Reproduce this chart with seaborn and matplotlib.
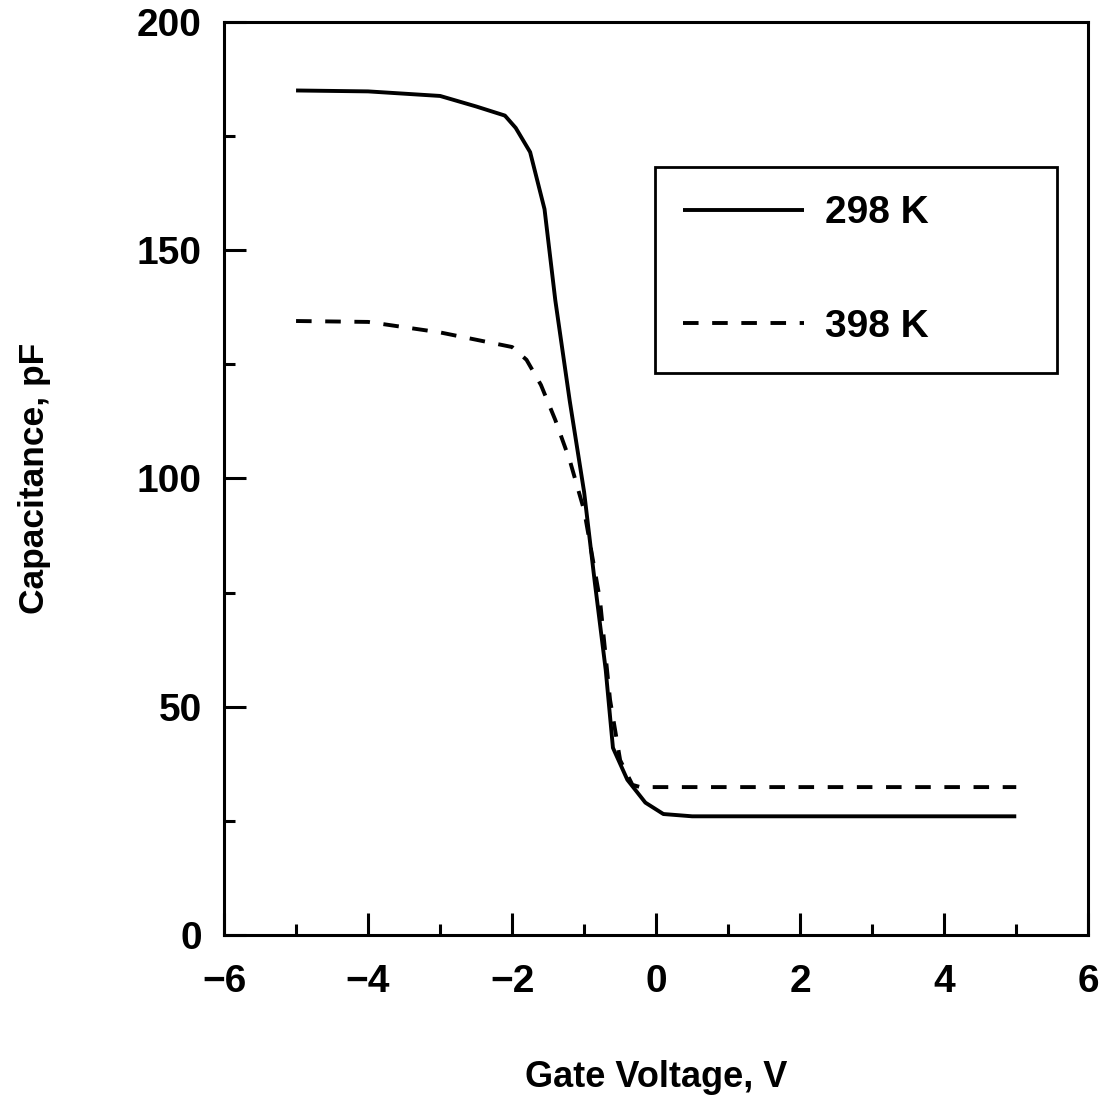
import pandas as pd
import matplotlib
matplotlib.use('Agg')
import matplotlib.pyplot as plt
import seaborn as sns
from matplotlib.ticker import MultipleLocator

# values
v_298 = [-5, -4, -3, -2.5, -2.1, -1.95, -1.75, -1.55, -1.4, -1.2, -1.0, -0.85,
         -0.7, -0.6, -0.4, -0.15, 0.1, 0.5, 5]
c_298 = [185, 184.8, 183.8, 181.5, 179.5, 176.8, 171.5, 159, 139, 117, 97, 77,
         58, 41, 34, 29, 26.5, 26, 26]

v_398 = [-5, -4, -3, -2, -1.8, -1.6, -1.4, -1.2, -1.0, -0.78, -0.64, -0.5,
         -0.33, -0.22, 5]
c_398 = [134.5, 134.3, 132, 128.8, 126, 120.5, 112.8, 104, 93, 73.4, 51.5, 38.3,
         32.9, 32.4, 32.4]

df = pd.concat([
    pd.DataFrame({'v': v_298, 'c': c_298, 'T': '298 K'}),
    pd.DataFrame({'v': v_398, 'c': c_398, 'T': '398 K'}),
])

sns.set_style('ticks')
plt.rcParams['font.family'] = ['Liberation Sans', 'DejaVu Sans']
plt.rcParams['font.weight'] = 'bold'
plt.rcParams['text.color'] = 'black'
plt.rcParams['axes.labelcolor'] = 'black'
plt.rcParams['xtick.color'] = 'black'
plt.rcParams['ytick.color'] = 'black'

fig = plt.figure(figsize=(11.08, 11.0), dpi=100)
ax = fig.add_axes([0.2022, 0.15, 0.78, 0.83])

sns.lineplot(data=df, x='v', y='c', hue='T', style='T',
             palette=['black', 'black'], dashes=[(1, 0), (4, 3.5)],
             linewidth=2.8, sort=False, estimator=None, ax=ax)

ax.set_xlim(-6, 6)
ax.set_ylim(0, 200)
ax.xaxis.set_major_locator(MultipleLocator(2))
ax.xaxis.set_minor_locator(MultipleLocator(1))
ax.yaxis.set_major_locator(MultipleLocator(50))
ax.yaxis.set_minor_locator(MultipleLocator(25))
ax.tick_params(which='major', direction='in', length=16, width=2.2,
               labelsize=28, pad=21)
ax.tick_params(which='minor', direction='in', length=8, width=2.2)
ax.tick_params(axis='y', which='major', pad=16)
for lbl in ax.get_xticklabels() + ax.get_yticklabels():
    lbl.set_fontweight('bold')
for s in ax.spines.values():
    s.set_linewidth(2.2)
    s.set_color('black')

ax.set_xlabel('Gate Voltage, V', fontsize=26, fontweight='bold', labelpad=43)
ax.set_ylabel('Capacitance, pF', fontsize=25.5, fontweight='bold', labelpad=62)

leg = ax.legend(loc='upper left', bbox_to_anchor=(0.499, 0.841, 0.465, 0.0),
                mode='expand', fancybox=False, edgecolor='black', framealpha=1,
                prop={'size': 28, 'weight': 'bold'}, handlelength=3.1,
                handletextpad=0.55, labelspacing=2.0, borderpad=0.72,
                borderaxespad=0)
leg.get_frame().set_linewidth(2.0)

fig.savefig('out.png', dpi=100)
